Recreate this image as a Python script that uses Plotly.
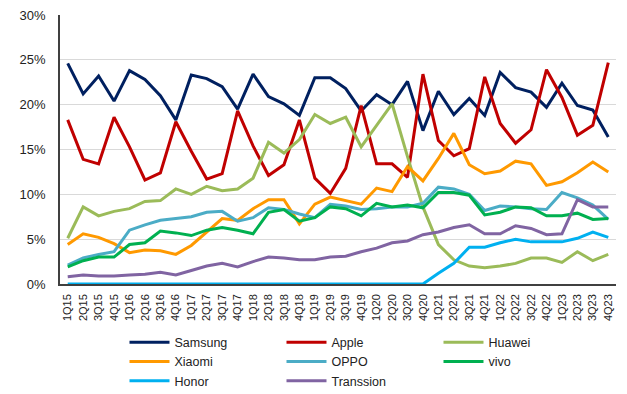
import plotly.graph_objects as go

quarters = [f"{q}Q{y}" for y in range(15, 24) for q in range(1, 5)]

samsung = [24.6, 21.2, 23.2, 20.4, 23.8, 22.8, 21.0, 18.3, 23.3, 22.9, 22.0, 19.5,
           23.4, 20.9, 20.1, 18.8, 23.0, 23.0, 21.8, 19.3, 21.1, 20.0, 22.6, 17.1,
           21.5, 18.9, 20.7, 18.8, 23.6, 21.9, 21.4, 19.7, 22.4, 19.9, 19.4, 16.4]
apple = [18.3, 13.9, 13.4, 18.6, 15.3, 11.6, 12.4, 18.1, 14.8, 11.7, 12.3, 19.3,
         15.4, 12.1, 13.3, 18.3, 11.8, 10.1, 12.9, 19.9, 13.4, 13.4, 11.9, 23.4,
         16.0, 14.3, 15.1, 23.1, 17.9, 15.7, 17.2, 23.9, 20.8, 16.6, 17.7, 24.7]
huawei = [5.1, 8.6, 7.6, 8.1, 8.4, 9.2, 9.3, 10.6, 10.0, 10.9, 10.4, 10.6,
          11.8, 15.8, 14.6, 16.1, 18.9, 17.9, 18.6, 15.3, 17.7, 20.1, 14.2, 8.6,
          4.4, 2.7, 2.0, 1.8, 2.0, 2.3, 2.9, 2.9, 2.4, 3.6, 2.6, 3.3]
xiaomi = [4.4, 5.6, 5.2, 4.5, 3.5, 3.8, 3.7, 3.3, 4.3, 5.8, 7.3, 7.1,
          8.4, 9.4, 9.4, 6.7, 8.9, 9.7, 9.3, 8.9, 10.7, 10.3, 13.1, 11.5,
          14.0, 16.8, 13.3, 12.3, 12.6, 13.7, 13.4, 11.0, 11.4, 12.4, 13.6, 12.5]
oppo = [2.1, 2.9, 3.3, 3.6, 6.0, 6.6, 7.1, 7.3, 7.5, 8.0, 8.1, 7.0,
        7.4, 8.5, 8.3, 7.8, 7.4, 8.9, 8.7, 8.3, 8.4, 8.6, 8.6, 9.0,
        10.8, 10.6, 10.0, 8.2, 8.7, 8.6, 8.4, 8.3, 10.2, 9.6, 8.8, 7.2]
vivo = [1.9, 2.6, 3.0, 3.0, 4.4, 4.6, 5.9, 5.7, 5.4, 6.0, 6.3, 6.0,
        5.6, 8.0, 8.3, 7.0, 7.4, 8.6, 8.4, 7.6, 9.0, 8.6, 8.8, 8.5,
        10.2, 10.2, 9.9, 7.7, 8.0, 8.6, 8.5, 7.6, 7.6, 7.9, 7.2, 7.3]
honor = [0.0] * 24 + [1.2, 2.3, 4.1, 4.1, 4.6, 5.0, 4.7, 4.7, 4.7, 5.1, 5.8, 5.2]
transsion = [0.8, 1.0, 0.9, 0.9, 1.0, 1.1, 1.3, 1.0, 1.5, 2.0, 2.3, 1.9,
             2.5, 3.0, 2.9, 2.7, 2.7, 3.0, 3.1, 3.6, 4.0, 4.6, 4.8, 5.5,
             5.8, 6.3, 6.6, 5.6, 5.6, 6.5, 6.2, 5.5, 5.6, 9.4, 8.6, 8.6]

series = [
    ("Samsung", samsung, "#002060"),
    ("Apple", apple, "#c00000"),
    ("Huawei", huawei, "#9bbb59"),
    ("Xiaomi", xiaomi, "#ff9900"),
    ("OPPO", oppo, "#4bacc6"),
    ("vivo", vivo, "#00b050"),
    ("Honor", honor, "#00b0f0"),
    ("Transsion", transsion, "#8064a2"),
]

fig = go.Figure()
for name, vals, color in series:
    fig.add_trace(go.Scatter(
        x=quarters, y=[v / 100 for v in vals], name=name, mode="lines",
        line=dict(color=color, width=3),
    ))

fig.update_layout(
    width=627, height=394,
    margin=dict(l=60, r=11, t=15, b=110, autoexpand=False),
    paper_bgcolor="white", plot_bgcolor="white",
    font=dict(family="Liberation Sans, Arial, sans-serif", color="#222222"),
    showlegend=True,
    legend=dict(
        orientation="h", x=0.116, xanchor="left", y=-0.162, yanchor="top",
        entrywidth=102, entrywidthmode="pixels",
        font=dict(size=12.5, color="#222222"),
        tracegroupgap=0, itemwidth=40,
        bgcolor="rgba(0,0,0,0)",
    ),
)
fig.update_xaxes(
    type="category", range=[-0.5, 35.5], tickangle=-90,
    tickfont=dict(size=11), showgrid=False, automargin=False,
    showline=True, linecolor="#404040", linewidth=1.5,
    ticks="", ticklabelstandoff=4,
)
fig.update_yaxes(
    range=[0, 0.30], dtick=0.05, tickformat=".0%", automargin=False,
    tickfont=dict(size=13), showgrid=True, gridcolor="#d9d9d9", gridwidth=1,
    showline=True, linecolor="#404040", linewidth=1.5, zeroline=False,
    ticks="", ticklabelstandoff=10,
)

fig.write_html("out.html")
